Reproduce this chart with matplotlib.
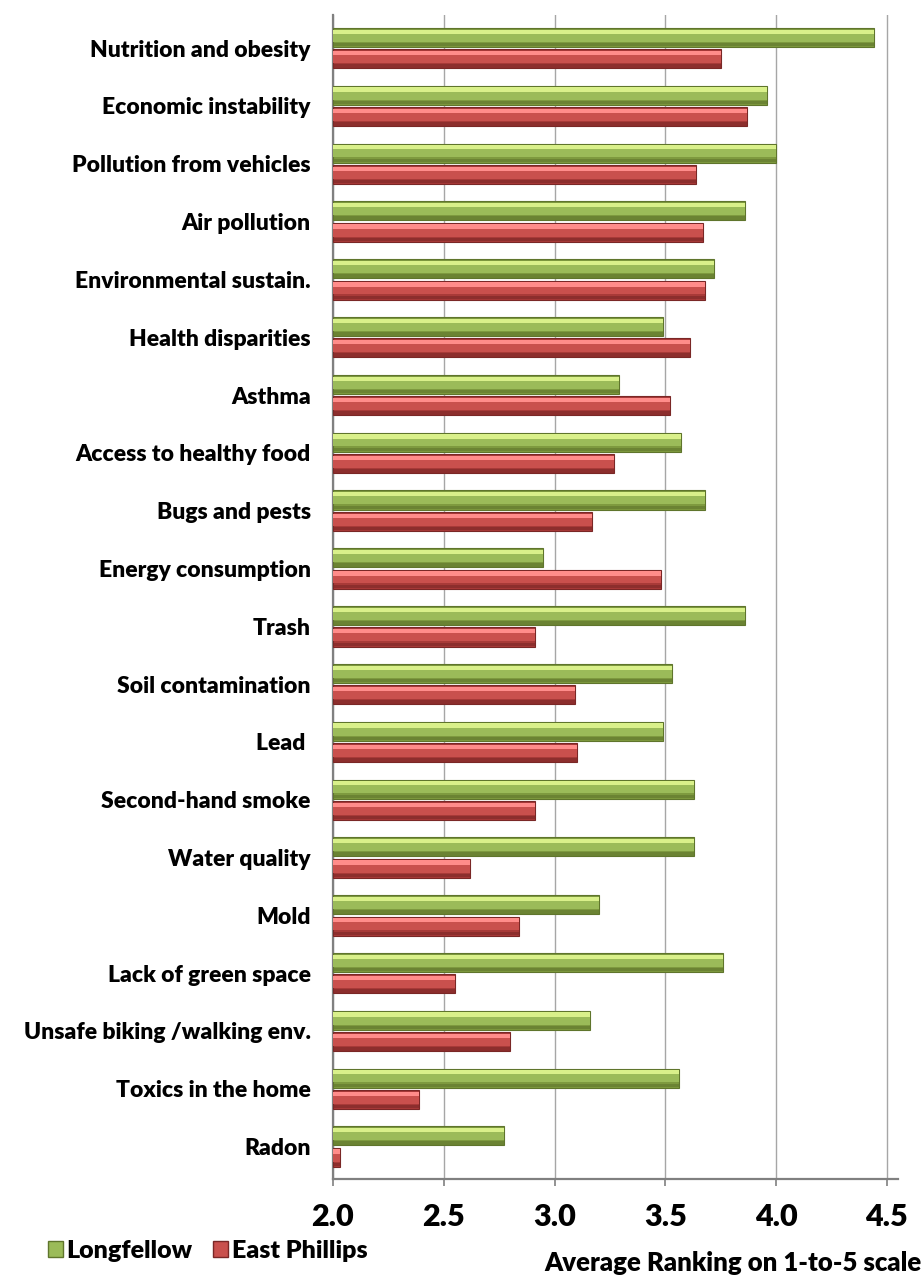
import numpy as np
import matplotlib
matplotlib.use('Agg')
import matplotlib.pyplot as plt
from matplotlib.patches import Patch

plt.rcParams['font.family'] = ['Lato', 'DejaVu Sans']
plt.rcParams['font.weight'] = 'heavy'

# data (top to bottom)
categories = ['Nutrition and obesity', 'Economic instability', 'Pollution from vehicles',
              'Air pollution', 'Environmental sustain.', 'Health disparities', 'Asthma',
              'Access to healthy food', 'Bugs and pests', 'Energy consumption', 'Trash',
              'Soil contamination', 'Lead ', 'Second-hand smoke', 'Water quality', 'Mold',
              'Lack of green space', 'Unsafe biking /walking env.', 'Toxics in the home', 'Radon']
longfellow = [4.44, 3.96, 4.00, 3.86, 3.72, 3.49, 3.29, 3.57, 3.68, 2.95,
              3.86, 3.53, 3.49, 3.63, 3.63, 3.20, 3.76, 3.16, 3.56, 2.77]
east_phillips = [3.75, 3.87, 3.64, 3.67, 3.68, 3.61, 3.52, 3.27, 3.17, 3.48,
                 2.91, 3.09, 3.10, 2.91, 2.62, 2.84, 2.55, 2.80, 2.39, 2.03]
xticks = [2.0, 2.5, 3.0, 3.5, 4.0, 4.5]

base = 2.0
y = np.arange(len(categories))
h = 0.33
off = 0.185

green = ('#7e9a3f', '#9bbb59', '#d9f08a', '#5f752c')   # body, mid, highlight, dark
red = ('#a83a38', '#c9504d', '#ff8c8a', '#7a2726')

fig = plt.figure(figsize=(9.23, 12.76), dpi=100)
ax = fig.add_axes([333 / 923, 1 - 1179 / 1276, (898 - 333) / 923, (1179 - 15) / 1276])


def bevel_bars(ypos, vals, cols):
    w = np.array(vals) - base
    # body with dark edge
    ax.barh(ypos, w, height=h, left=base, color=cols[0], edgecolor=cols[3], linewidth=0.8, zorder=3)
    # mid band
    ax.barh(ypos - h * 0.05, w, height=h * 0.55, left=base, color=cols[1], linewidth=0, zorder=4)
    # top highlight
    ax.barh(ypos - h * 0.3, w, height=h * 0.22, left=base, color=cols[2], linewidth=0, zorder=5)
    # bottom shade
    ax.barh(ypos + h * 0.38, w, height=h * 0.18, left=base, color=cols[3], alpha=0.6, linewidth=0, zorder=5)


bevel_bars(y - off, longfellow, green)
bevel_bars(y + off, east_phillips, red)

ax.set_xlim(2.0, 4.55)
ax.set_ylim(19.56, -0.574)
ax.set_xticks(xticks)
ax.set_xticklabels([f'{t:.1f}' for t in xticks], fontsize=22)
ax.set_yticks(y)
ax.set_yticklabels(categories, fontsize=16.5)
ax.tick_params(axis='y', length=0, pad=16)
ax.tick_params(axis='x', length=5, width=1.2, color='#808080', pad=12)
ax.xaxis.grid(True, color='#a6a6a6', linewidth=1.0)
ax.set_axisbelow(True)
for s in ['top', 'right']:
    ax.spines[s].set_visible(False)
for s in ['left', 'bottom']:
    ax.spines[s].set_color('#808080')
    ax.spines[s].set_linewidth(1.6)

handles = [Patch(facecolor=green[1], edgecolor=green[3], label='Longfellow'),
           Patch(facecolor=red[1], edgecolor=red[3], label='East Phillips')]
fig.legend(handles=handles, loc='center left', bbox_to_anchor=(48 / 923, 1 - 1251 / 1276),
           ncol=2, frameon=False, prop={'size': 18, 'weight': 'heavy'},
           borderpad=0, borderaxespad=0,
           handlelength=0.6, handleheight=0.6, handletextpad=0.15, columnspacing=0.8)

fig.text(0.998, 1 - 1263 / 1276, 'Average Ranking on 1-to-5 scale', ha='right', va='center',
         fontsize=18.5)

fig.savefig('out.png', dpi=100)
